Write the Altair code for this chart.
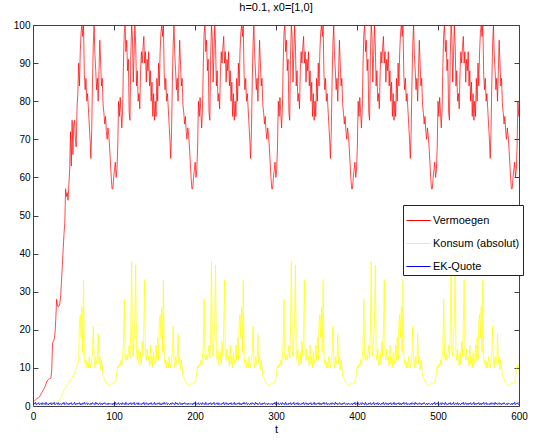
import altair as alt
import pandas as pd

# Start-up phase (one sample per step, t = 0 .. ~55)
red_ramp = [1.0, 1.2, 1.4, 1.6, 1.8, 2.0, 2.1, 2.2, 2.4, 2.8,
            3.2, 3.6, 4.0, 4.4, 4.7, 5.2, 5.8, 6.4, 6.8, 7.0,
            7.1, 7.2, 7.3, 9.5, 16.5, 17.0, 17.5, 19.0, 23.0, 28.0,
            26.5, 26.0, 26.2, 27.0, 29.0, 33.0, 37.0, 41.0, 45.0, 48.0,
            57.0, 55.0, 56.0, 54.0, 58.0, 62.0, 72.0, 63.0, 75.0, 66.0,
            74.0, 75.0, 70.0, 68.0, 78.0, 82.0]
yellow_ramp = [0.0, 0.0, 0.0, 0.0, 0.0, 0.0, 0.0, 0.0, 0.0, 0.0,
               0.0, 0.0, 0.0, 0.0, 0.0, 0.0, 0.0, 0.0, 0.05, 0.1,
               0.15, 0.2, 0.3, 0.4, 0.5, 0.6, 0.7, 0.8, 1.0, 1.1,
               1.2, 1.4, 1.6, 1.9, 2.2, 2.6, 3.0, 3.5, 4.2, 4.4,
               4.8, 5.0, 5.5, 5.8, 6.0, 6.5, 6.8, 7.2, 7.5, 8.0,
               8.3, 8.8, 9.5, 10.0, 10.5, 11.0]

# One recurring cycle of the settled regime
red_cycle = [57, 60, 62, 64, 60, 62, 68, 80, 76, 81,
             77, 73, 78, 90, 98, 100, 93, 96, 88, 91,
             77, 75, 92, 100, 97, 85, 92, 100, 95, 84,
             88, 80, 82, 78, 88, 93, 90, 94, 97, 90,
             93, 85, 91, 88, 93, 84, 88, 80, 85, 76,
             82, 75, 80, 76, 86, 80, 90, 84, 93, 98,
             100, 97, 100, 87, 83, 86, 80, 82, 78, 74,
             70, 65, 72, 85, 95, 100, 92, 88, 83, 86,
             80, 88, 96, 90, 84, 86, 79, 77, 74, 76,
             72, 70, 73, 71, 68, 64, 60, 57]
yellow_cycle = [6.0, 5.8, 6.0, 6.3, 7.0, 9.0, 10.5, 10.0, 11.0, 10.5,
                12.0, 10.5, 13.0, 16.0, 28.0, 13.0, 12.0, 13.5, 12.0, 14.0,
                16.0, 12.5, 20.0, 38.0, 15.0, 13.0, 18.0, 22.0, 37.0, 14.0,
                12.0, 15.0, 11.0, 10.5, 14.0, 11.0, 17.0, 13.0, 20.0, 33.0,
                14.0, 12.0, 15.0, 12.0, 13.0, 10.5, 16.0, 11.0, 13.0, 10.0,
                14.0, 12.0, 11.0, 16.0, 12.0, 18.0, 12.0, 22.0, 24.0, 18.0,
                26.0, 14.0, 33.0, 13.0, 11.0, 12.0, 10.0, 11.5, 10.0, 13.0,
                11.0, 10.0, 12.0, 14.0, 21.0, 12.0, 10.0, 13.0, 11.0, 12.0,
                19.0, 11.0, 13.0, 9.5, 12.0, 10.0, 8.0, 7.5, 7.0, 6.5,
                6.0, 5.8, 5.6, 5.5, 5.5, 5.6, 5.8, 6.0]
blue_cycle = [0.3, 0.8, 0.5, 1.0, 0.3, 0.7, 0.5, 0.9, 0.3, 0.6,
              0.8, 0.3, 0.9, 0.5, 0.7, 0.3, 1.0, 0.4, 0.6, 0.3,
              0.8, 0.5, 0.9, 0.3, 0.7, 0.5, 1.0, 0.3, 0.6, 0.8,
              0.4, 0.9, 0.3, 0.7, 0.5, 0.3, 0.8, 0.5, 1.0, 0.3,
              0.6, 0.9, 0.4, 0.7, 0.3, 0.8, 0.5, 0.9, 0.3, 0.6,
              0.5, 1.0, 0.3, 0.7, 0.4, 0.8, 0.5, 0.9, 0.3, 0.7,
              0.3, 0.8, 0.5, 1.0, 0.4, 0.6, 0.9, 0.3, 0.7, 0.5,
              0.3, 0.8, 0.4, 0.9, 0.5, 0.7, 0.3, 1.0, 0.5, 0.8,
              0.3, 0.6, 0.9, 0.4, 0.7, 0.3, 0.8, 0.5, 0.9, 0.5,
              0.4, 0.7, 0.3, 0.8, 0.5, 0.6, 0.4, 0.7]

series_names = ["Vermoegen", "Konsum (absolut)", "EK-Quote"]
series_colors = ["#ff0000", "#ffff00", "#0000ff"]
x_ticks = [0, 100, 200, 300, 400, 500, 600]
y_ticks = [0, 10, 20, 30, 40, 50, 60, 70, 80, 90, 100]

period = 98.6
n_cycle = len(red_cycle)
dt = period / n_cycle
t_end = 600

rows = []
i = 0
while i * dt <= t_end:
    t = i * dt
    k = i % n_cycle
    v = red_ramp[i] if i < len(red_ramp) else red_cycle[k]
    c = yellow_ramp[i] if i < len(yellow_ramp) else yellow_cycle[k]
    q = blue_cycle[k]
    rows.append({"t": t, "value": v, "series": series_names[0]})
    rows.append({"t": t, "value": c, "series": series_names[1]})
    rows.append({"t": t, "value": q, "series": series_names[2]})
    i += 1
df = pd.DataFrame(rows)

W, H = 486, 381
FONT = "Liberation Sans"
FRAME = "#404040"

xs = alt.Scale(domain=[0, 600], nice=False, zero=False)
ys = alt.Scale(domain=[0, 100], nice=False)

lines = alt.Chart(df).mark_line(strokeWidth=0.7, clip=True).encode(
    x=alt.X("t:Q", scale=xs,
            axis=alt.Axis(orient="bottom", values=x_ticks, tickSize=0, domain=False,
                          grid=False, labelFontSize=10, labelPadding=5, labelFlush=False,
                          title="t", titleFontSize=11, titleFontWeight="normal",
                          titlePadding=2)),
    y=alt.Y("value:Q", scale=ys,
            axis=alt.Axis(orient="left", values=y_ticks, tickSize=0, domain=False,
                          grid=False, labelFontSize=10, labelPadding=3, labelFlush=False,
                          title=None)),
    color=alt.Color("series:N", sort=series_names,
                    scale=alt.Scale(domain=series_names, range=series_colors),
                    legend=alt.Legend(title=None, orient="none", legendX=370, legendY=180,
                                      symbolType="stroke", symbolSize=576,
                                      symbolStrokeWidth=1, labelFontSize=11,
                                      labelFont=FONT, labelOffset=2, labelLimit=300,
                                      strokeColor="#222222", fillColor="white",
                                      padding=3, rowPadding=5)),
)

tick_src = df[df["series"] == series_names[0]]

# inward ticks along the bottom and left edges
ticks_in_a = alt.Chart(tick_src).mark_line(strokeOpacity=0).encode(
    x=alt.X("t:Q", scale=xs,
            axis=alt.Axis(orient="top", offset=-H, values=x_ticks, tickSize=5,
                          labels=False, domain=False, grid=False, title=None)),
    y=alt.Y("value:Q", scale=ys,
            axis=alt.Axis(orient="right", offset=-W, values=y_ticks, tickSize=5,
                          labels=False, domain=False, grid=False, title=None)),
)
# inward ticks along the top and right edges
ticks_in_b = alt.Chart(tick_src).mark_line(strokeOpacity=0).encode(
    x=alt.X("t:Q", scale=xs,
            axis=alt.Axis(orient="bottom", offset=-H, values=x_ticks, tickSize=5,
                          labels=False, domain=False, grid=False, title=None)),
    y=alt.Y("value:Q", scale=ys,
            axis=alt.Axis(orient="left", offset=-W, values=y_ticks, tickSize=5,
                          labels=False, domain=False, grid=False, title=None)),
)

chart = alt.layer(lines, ticks_in_a, ticks_in_b).resolve_axis(
    x="independent", y="independent"
).properties(
    width=W, height=H,
    title=alt.Title("h=0.1, x0=[1,0]", fontSize=11, fontWeight="normal", font=FONT,
                    anchor="middle", offset=7, color="#000000"),
    autosize=alt.AutoSizeParams(type="none"),
    padding={"left": 33, "top": 25, "right": 14, "bottom": 36},
    background="white",
).configure_view(
    stroke=FRAME, strokeWidth=1
).configure_axis(
    tickColor=FRAME, labelColor="#000000", titleColor="#000000",
    labelFont=FONT, titleFont=FONT
)

chart.save("out.html", embed_options={"renderer": "svg", "actions": False})
